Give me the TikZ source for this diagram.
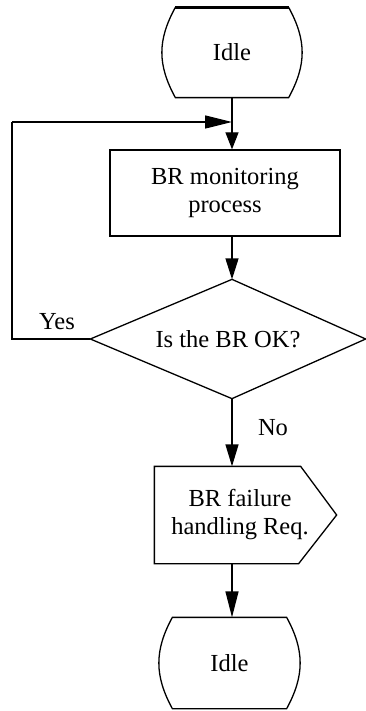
\documentclass[tikz,border=0pt]{standalone}
\usepackage{fontspec}
\setmainfont{Liberation Serif}
\usetikzlibrary{arrows.meta,calc}
\begin{document}
\begin{tikzpicture}[x=1pt,y=-1pt,line width=1.3pt,
  font=\fontsize{24.5}{28}\selectfont,
  shapebox/.style={inner sep=0pt,draw=none,align=center},
  lbl/.style={inner sep=0pt},
  arr/.style={-{Triangle[length=#1,width=13pt]}},
  arr/.default=20pt]
\useasboundingbox (0,0) rectangle (366,711);
% nodes
\node[shapebox,minimum width=112pt,minimum height=89pt] (idleA) at (232,52.5) {Idle};
\node[draw,inner sep=0pt,align=center,minimum width=230pt,minimum height=86pt] (box) at (225,193) {BR monitoring\\process};
\node[shapebox,minimum width=274pt,minimum height=118pt] (dec) at (228,339) {Is the BR OK?};
\node[shapebox,minimum width=170pt,minimum height=96pt] (fail) at (240,515) {BR failure\\handling Req.};
\node[shapebox,minimum width=113pt,minimum height=90pt] (idleB) at (229.5,663) {Idle};
\node[lbl] (yes) at (57,322) {Yes};
\node[lbl] (no) at (273,428) {No};
\coordinate (join) at (232,122);
\coordinate (lc) at (12,122);
% outlines
\draw[line width=2.4pt] (idleA.north west) -- (idleA.north east);
\draw (idleA.north east) .. controls +(18,33) and +(18,-33) .. (idleA.south east)
  -- (idleA.south west) .. controls +(-18,-33) and +(-18,33) .. (idleA.north west);
\draw (idleB.north west) -- (idleB.north east) .. controls +(18,33) and +(18,-33) .. (idleB.south east)
  -- (idleB.south west) .. controls +(-18,-33) and +(-18,33) .. cycle;
\draw (dec.west) -- (dec.north -| join) -- (dec.east) -- (dec.south -| join) -- cycle;
\draw (fail.north west) -- ([xshift=-25pt]fail.north east) -- ([xshift=11pt]fail.east)
  -- ([xshift=-27pt]fail.south east) -- (fail.south west) -- cycle;
% connectors
\draw[arr=17pt] (idleA.south -| join) -- (box.north -| join);
\draw[arr=21pt] (box.south -| join) -- (dec.north -| join);
\draw[arr=22pt] (dec.south -| join) -- (fail.north -| join);
\draw[arr=26pt] (fail.south -| join) -- (idleB.north -| join);
\draw (dec.west) -| (lc);
\draw[arr=27pt] (lc) -- (join);
\end{tikzpicture}
\end{document}
